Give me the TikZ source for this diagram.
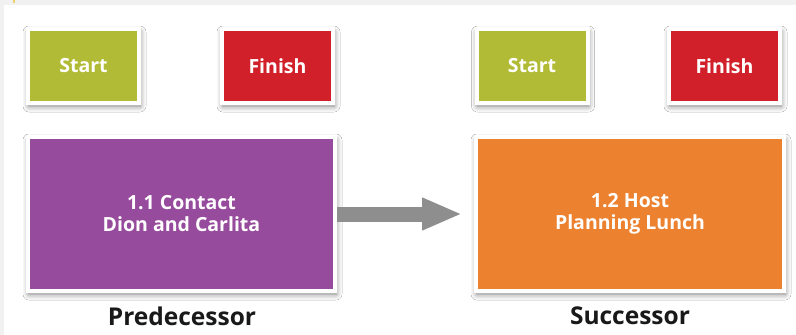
\documentclass[tikz,border=0pt]{standalone}
\usepackage{fontspec}
\setmainfont{Open Sans}
\usetikzlibrary{arrows.meta,shadows.blur}
\definecolor{cgreen}{HTML}{B2BB35}
\definecolor{cred}{HTML}{D2202A}
\definecolor{cpurple}{HTML}{974B9C}
\definecolor{corange}{HTML}{EC8130}
\definecolor{cband}{HTML}{F1F1F1}
\definecolor{carrow}{HTML}{8E8E8E}
\tikzset{
  box/.style={draw=white, line width=4pt, inner sep=0pt, align=center,
    text=white, font=\bfseries\fontsize{19.5}{21}\selectfont,
    blur shadow={shadow xshift=1pt, shadow yshift=-3pt, shadow blur radius=6pt, shadow opacity=55}},
  small/.style={box, minimum width=111pt, minimum height=74pt},
  big/.style={box, minimum width=307pt, minimum height=154pt, font=\bfseries\fontsize{19.5}{22}\selectfont},
  caption/.style={font=\bfseries\fontsize{24.5}{26}\selectfont, text=black!90, inner sep=0pt},
  link/.style={line width=15pt, carrow, -{Triangle[length=40pt 0 0, width=30pt 0 0]}}
}
\begin{document}
\begin{tikzpicture}[x=1pt, y=-1pt]
\useasboundingbox (0,0) rectangle (796,335);
\fill[white] (0,0) rectangle (796,335);
\fill[cband] (0,0) rectangle (796,5);
\fill[cband] (0,0) rectangle (4,335);
\fill[brown!50!yellow!70] (13,0) rectangle (15,3);
\node[small, fill=cgreen] (s1) at (83.5,66) {Start};
\node[small, fill=cred] (f1) at (277.5,66) {Finish};
\node[small, fill=cgreen] (s2) at (532,66) {Start};
\node[small, fill=cred] (f2) at (724.5,66) {Finish};
\node[big, fill=cpurple] (p) at (181.5,214) {1.1 Contact\\Dion and Carlita};
\node[big, fill=corange, minimum width=308pt] (q) at (630,214) {1.2 Host\\Planning Lunch};
\node[caption] (pl) at (182,316) {Predecessor};
\node[caption] (ql) at (630,316) {Successor};
\draw[link] (p.east) -- ([xshift=-12pt]q.west);
\end{tikzpicture}
\end{document}
